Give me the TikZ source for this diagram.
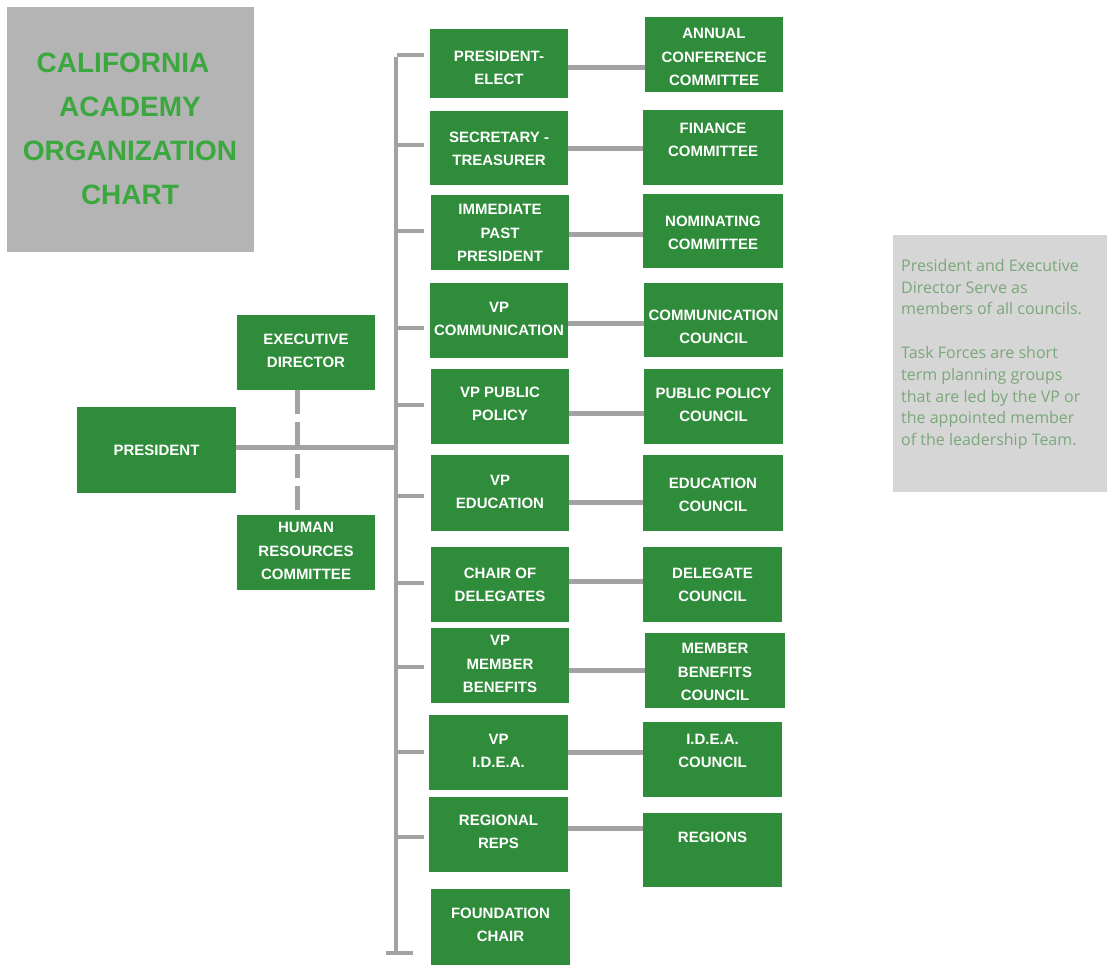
\documentclass[tikz,border=0pt]{standalone}
\usepackage{fontspec}
\setmainfont{Liberation Sans}
\newfontfamily\notefont{Open Sans}
\definecolor{boxgreen}{RGB}{47,140,58}
\definecolor{titlegreen}{RGB}{58,168,62}
\definecolor{titlegray}{RGB}{180,180,180}
\definecolor{notegray}{RGB}{214,214,214}
\definecolor{notegreen}{RGB}{122,168,122}
\definecolor{linegray}{RGB}{162,162,162}
\newcommand\orgbox[7]{%
  \node[gbox, minimum width={#4pt-#2pt}, minimum height={#5pt-#3pt}] (#1) at (#2,#3) {};
  \node[btext] (#1-t) at ({(#2+#4)/2},#6) {#7};}
\begin{document}
\begin{tikzpicture}[x=1pt,y=-1pt,
  gbox/.style={fill=boxgreen, draw=none, inner sep=0pt, anchor=north west},
  btext/.style={text=white, align=center, inner sep=0pt, font=\bfseries\fontsize{15}{23.5}\selectfont},
  conn/.style={draw=linegray, line width=5pt},
  busline/.style={draw=linegray, line width=4pt},
  tickline/.style={draw=linegray, line width=4.5pt},
  dashline/.style={draw=linegray, line width=5pt, dash pattern=on 24pt off 8pt}]
\useasboundingbox (0,0) rectangle (1107,966);
\fill[white] (0,0) rectangle (1107,966);
% title
\node[fill=titlegray, inner sep=0pt, anchor=north west, minimum width=247pt, minimum height=245pt] (title) at (7,7) {};
\node[text=titlegreen, align=center, inner sep=0pt, font=\bfseries\fontsize{28}{44}\selectfont] (title-t) at (130,129) {CALIFORNIA\hspace*{14pt}\\ACADEMY\\ORGANIZATION\\CHART};
% note
\node[fill=notegray, inner sep=0pt, anchor=north west, minimum width=214pt, minimum height=257pt] (note) at (893,235) {};
\node[text=notegreen, align=left, inner sep=0pt, anchor=north west, font=\notefont\fontsize{16}{21.8}\selectfont] (note-t) at (901,259) {President and Executive\\Director Serve as\\members of all councils.\\[21.8pt]Task Forces are short\\term planning groups\\that are led by the VP or\\the appointed member\\of the leadership Team.};
% left column
\orgbox{pres}{77}{407}{236}{493}{450}{PRESIDENT}
\orgbox{ed}{237}{315}{375}{390}{351}{EXECUTIVE\\DIRECTOR}
\orgbox{hr}{237}{515}{375}{590}{551}{HUMAN\\RESOURCES\\COMMITTEE}
% middle column
\orgbox{pe}{430}{29}{568}{98}{68}{PRESIDENT-\\ELECT}
\orgbox{st}{430}{111}{568}{185}{149}{SECRETARY -\\TREASURER}
\orgbox{ipp}{431}{195}{569}{270}{233}{IMMEDIATE\\PAST\\PRESIDENT}
\orgbox{vpc}{430}{283}{568}{358}{319}{VP\\COMMUNICATION}
\orgbox{vpp}{431}{369}{569}{444}{404}{VP PUBLIC\\POLICY}
\orgbox{vpe}{431}{455}{569}{531}{492}{VP\\EDUCATION}
\orgbox{cod}{431}{547}{569}{622}{585}{CHAIR OF\\DELEGATES}
\orgbox{vpmb}{431}{628}{569}{703}{664}{VP\\MEMBER\\BENEFITS}
\orgbox{vpi}{429}{715}{568}{790}{751}{VP\\I.D.E.A.}
\orgbox{rr}{429}{797}{568}{872}{832}{REGIONAL\\REPS}
\orgbox{fc}{431}{889}{570}{965}{925}{FOUNDATION\\CHAIR}
% right column
\orgbox{ace}{645}{17}{783}{92}{57}{ANNUAL\\CONFERENCE\\COMMITTEE}
\orgbox{fin}{643}{110}{783}{185}{140}{FINANCE\\COMMITTEE}
\orgbox{nom}{643}{194}{783}{268}{233}{NOMINATING\\COMMITTEE}
\orgbox{cc}{644}{283}{783}{357}{327}{COMMUNICATION\\COUNCIL}
\orgbox{ppc}{644}{369}{783}{444}{405}{PUBLIC POLICY\\COUNCIL}
\orgbox{ec}{643}{455}{783}{531}{495}{EDUCATION\\COUNCIL}
\orgbox{dc}{643}{547}{782}{622}{585}{DELEGATE\\COUNCIL}
\orgbox{mbc}{645}{633}{785}{708}{672}{MEMBER\\BENEFITS\\COUNCIL}
\orgbox{ic}{643}{722}{782}{797}{751}{I.D.E.A.\\COUNCIL}
\orgbox{reg}{643}{813}{782}{887}{837}{REGIONS}
% bus
\coordinate (bustop) at (396,57);
\coordinate (busbot) at (396,953);
\coordinate (busmid) at (396,447);
\draw[busline] (bustop) -- (busbot);
\coordinate (bt1) at (386,953);
\coordinate (bt2) at (413,953);
\draw[tickline] (bt1) -- (bt2);
\foreach \yy in {55,145,231,328,405,496,583,667,752,837} {
  \coordinate (ta) at (397,\yy);
  \coordinate (tb) at (424,\yy);
  \draw[tickline] (ta) -- (tb);
}
% president to bus
\draw[conn] (pres.east |- busmid) -- (busmid);
% dashed link
\draw[dashline] ([xshift=-9pt]ed.south) -- ([xshift=-9pt]hr.north);
% middle to right
\foreach \a/\b/\yy in {pe/ace/67, st/fin/148, ipp/nom/234, vpc/cc/323, vpp/ppc/413, vpe/ec/502, cod/dc/581, vpmb/mbc/670, vpi/ic/752, rr/reg/828} {
  \coordinate (h) at (0,\yy);
  \draw[conn] (\a.east |- h) -- (\b.west |- h);
}
\end{tikzpicture}
\end{document}
